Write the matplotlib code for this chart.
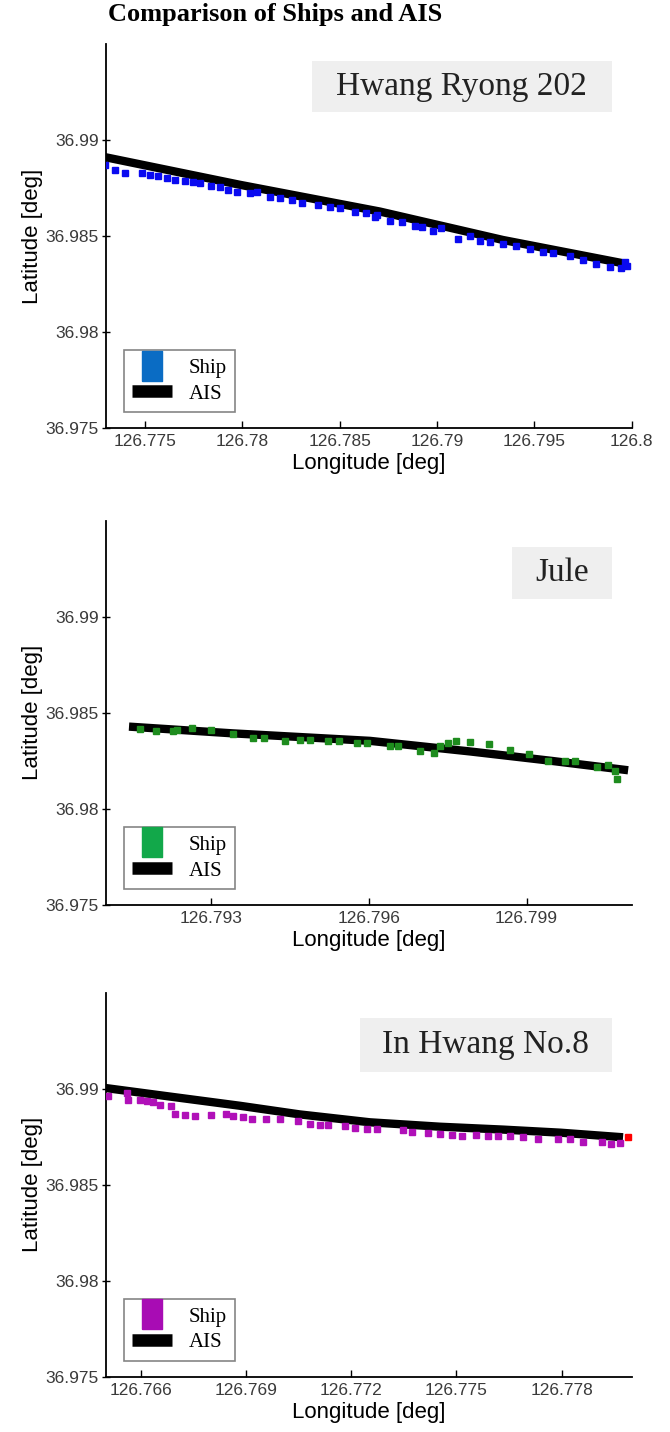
import matplotlib.pyplot as plt
from matplotlib.lines import Line2D
from matplotlib.patches import Rectangle

# ---- Datos ----
names = ['Hwang Ryong 202', 'Jule', 'In Hwang No.8']
ship_colors = ['#0a0af0', '#1e8c1e', '#b010b8']
legend_colors = ['#0a6cc4', '#12a84a', '#a80cb4']

# Hwang Ryong 202
ais1_lon = [126.77295, 126.77988, 126.78706, 126.79338, 126.79974]
ais1_lat = [36.98910, 36.98766, 36.98627, 36.98479, 36.98354]
ship1_lon = [126.77295, 126.77346, 126.77398, 126.77483, 126.77526, 126.77569, 126.77612,
             126.77654, 126.77706, 126.77748, 126.77782, 126.77842, 126.77885, 126.77928,
             126.77971, 126.78039, 126.78074, 126.78142, 126.78193, 126.78253, 126.78305,
             126.78390, 126.78450, 126.78501, 126.78578, 126.78638, 126.78690, 126.78681,
             126.78758, 126.78818, 126.78886, 126.78921, 126.78980, 126.79023, 126.79109,
             126.79168, 126.79220, 126.79271, 126.79339, 126.79408, 126.79476, 126.79545,
             126.79596, 126.79682, 126.79750, 126.79818, 126.79887, 126.79947, 126.79964,
             126.79973]
ship1_lat = [36.98870, 36.98844, 36.98827, 36.98827, 36.98818, 36.98813, 36.98801,
             36.98792, 36.98788, 36.98778, 36.98774, 36.98760, 36.98754, 36.98740,
             36.98731, 36.98722, 36.98731, 36.98705, 36.98696, 36.98688, 36.98670,
             36.98661, 36.98649, 36.98644, 36.98627, 36.98618, 36.98609, 36.98601,
             36.98580, 36.98575, 36.98552, 36.98545, 36.98528, 36.98540, 36.98483,
             36.98497, 36.98476, 36.98470, 36.98458, 36.98448, 36.98431, 36.98418,
             36.98410, 36.98396, 36.98375, 36.98354, 36.98337, 36.98332, 36.98366,
             36.98344]

# Jule
ais2_lon = [126.79144, 126.79341, 126.79602, 126.79792, 126.79944, 126.80093]
ais2_lat = [36.98428, 36.98393, 36.98354, 36.98299, 36.98251, 36.98201]
ship2_lon = [126.79165, 126.79196, 126.79227, 126.79236, 126.79263, 126.79300, 126.79341,
             126.79380, 126.79400, 126.79440, 126.79470, 126.79488, 126.79523, 126.79544,
             126.79577, 126.79597, 126.79641, 126.79656, 126.79697, 126.79724, 126.79735,
             126.79751, 126.79765, 126.79793, 126.79829, 126.79868, 126.79905, 126.79941,
             126.79973, 126.79992, 126.80034, 126.80055, 126.80068, 126.80072]
ship2_lat = [36.98416, 36.98406, 36.98406, 36.98411, 36.98423, 36.98411, 36.98390,
             36.98371, 36.98371, 36.98354, 36.98356, 36.98356, 36.98354, 36.98354,
             36.98342, 36.98342, 36.98325, 36.98325, 36.98303, 36.98290, 36.98325,
             36.98342, 36.98351, 36.98347, 36.98339, 36.98308, 36.98285, 36.98251,
             36.98251, 36.98251, 36.98218, 36.98230, 36.98199, 36.98153]

# In Hwang No.8
ais3_lon = [126.76492, 126.76682, 126.76882, 126.77053, 126.77253, 126.77453,
            126.77633, 126.77796, 126.77975]
ais3_lat = [36.99005, 36.98959, 36.98911, 36.98866, 36.98825, 36.98802,
            36.98787, 36.98771, 36.98747]
ship3_lon = [126.76507, 126.76559, 126.76564, 126.76597, 126.76616, 126.76635, 126.76654,
             126.76687, 126.76697, 126.76725, 126.76754, 126.76801, 126.76844, 126.76863,
             126.76892, 126.76918, 126.76958, 126.76996, 126.77048, 126.77082, 126.77110,
             126.77134, 126.77182, 126.77210, 126.77244, 126.77272, 126.77348, 126.77372,
             126.77419, 126.77453, 126.77486, 126.77515, 126.77557, 126.77590, 126.77619,
             126.77652, 126.77690, 126.77733, 126.77790, 126.77823, 126.77861, 126.77914,
             126.77942, 126.77966]
ship3_lat = [36.98962, 36.98976, 36.98942, 36.98942, 36.98937, 36.98928, 36.98914,
             36.98911, 36.98868, 36.98862, 36.98856, 36.98862, 36.98868, 36.98859,
             36.98851, 36.98842, 36.98842, 36.98842, 36.98833, 36.98816, 36.98811,
             36.98811, 36.98808, 36.98794, 36.98790, 36.98790, 36.98787, 36.98773,
             36.98770, 36.98764, 36.98759, 36.98756, 36.98759, 36.98756, 36.98753,
             36.98753, 36.98747, 36.98739, 36.98736, 36.98736, 36.98725, 36.98725,
             36.98713, 36.98718]
end3_lon = [126.77990]
end3_lat = [36.98747]

ais_lon = [ais1_lon, ais2_lon, ais3_lon]
ais_lat = [ais1_lat, ais2_lat, ais3_lat]
ship_lon = [ship1_lon, ship2_lon, ship3_lon]
ship_lat = [ship1_lat, ship2_lat, ship3_lat]

xlims = [(126.773, 126.800), (126.791, 126.801), (126.765, 126.780)]
xticks = [[126.775, 126.78, 126.785, 126.79, 126.795, 126.8],
          [126.793, 126.796, 126.799],
          [126.766, 126.769, 126.772, 126.775, 126.778]]
xticklabels = [['126.775', '126.78', '126.785', '126.79', '126.795', '126.8'],
               ['126.793', '126.796', '126.799'],
               ['126.766', '126.769', '126.772', '126.775', '126.778']]
yticks = [36.975, 36.98, 36.985, 36.99]
yticklabels = ['36.975', '36.98', '36.985', '36.99']

# cuadros de nombre (coordenadas de ejes): x0, y0, ancho, alto
name_boxes = [(0.392, 0.822, 0.570, 0.134),
              (0.772, 0.796, 0.190, 0.134),
              (0.483, 0.793, 0.479, 0.142)]

serif = 'Liberation Serif'
sans = 'Liberation Sans'

fig = plt.figure(figsize=(6.7, 14.32), dpi=100)
bottoms = [0.701, 0.368, 0.0384]

for i in range(3):
    ax = fig.add_axes([0.158, bottoms[i], 0.785, 0.2685])
    ax.plot(ais_lon[i], ais_lat[i], color='black', lw=6, solid_capstyle='butt',
            solid_joinstyle='round', zorder=2)
    ax.plot(ship_lon[i], ship_lat[i], 's', color=ship_colors[i], ms=5, mec=ship_colors[i], zorder=3)
    if i == 2:
        ax.plot(end3_lon, end3_lat, 's', color='#ff0000', ms=5, zorder=4)

    ax.set_xlim(xlims[i])
    ax.set_ylim(36.975, 36.995)
    ax.set_xticks(xticks[i])
    ax.set_xticklabels(xticklabels[i], family=sans, fontsize=12.5, color='#3a3a3a')
    ax.set_yticks(yticks)
    ax.set_yticklabels(yticklabels, family=sans, fontsize=12.5, color='#3a3a3a')
    ax.tick_params(axis='x', direction='in', length=5, width=1, pad=4)
    ax.tick_params(axis='y', direction='inout', length=6, width=1, pad=2)
    for s in ['top', 'right']:
        ax.spines[s].set_visible(False)
    for s in ['left', 'bottom']:
        ax.spines[s].set_linewidth(1.3)
    ax.set_xlabel('Longitude [deg]', family=sans, fontsize=16, labelpad=3)
    ax.set_ylabel('Latitude [deg]', family=sans, fontsize=16, labelpad=2)

    x0, y0, w, h = name_boxes[i]
    ax.add_patch(Rectangle((x0, y0), w, h, transform=ax.transAxes,
                           facecolor='#efefef', edgecolor='none', zorder=1))
    ax.text(x0 + w / 2, y0 + h / 2, names[i], transform=ax.transAxes,
            family=serif, fontsize=24, ha='center', va='center', color='#222222')

    h_ship = Line2D([], [], ls='none', color=legend_colors[i],
                    marker=[(-0.7, -1), (0.7, -1), (0.7, 1), (-0.7, 1), (-0.7, -1)],
                    ms=21)
    h_ais = Line2D([], [], color='black', lw=9, solid_capstyle='butt')
    leg = ax.legend([h_ship, h_ais], ['Ship', 'AIS'], loc='lower left',
                    bbox_to_anchor=(0.015, 0.015), prop={'family': serif, 'size': 15},
                    fancybox=False, edgecolor='#666666', handlelength=1.9,
                    handletextpad=0.8, labelspacing=0.3, borderpad=0.4)
    leg.get_frame().set_linewidth(1.2)

fig.text(108 / 670, 1 - 15 / 1432, 'Comparison of Ships and AIS', family=serif,
         fontweight='bold', fontsize=19, va='center', ha='left')

fig.savefig('out.png', dpi=100)
